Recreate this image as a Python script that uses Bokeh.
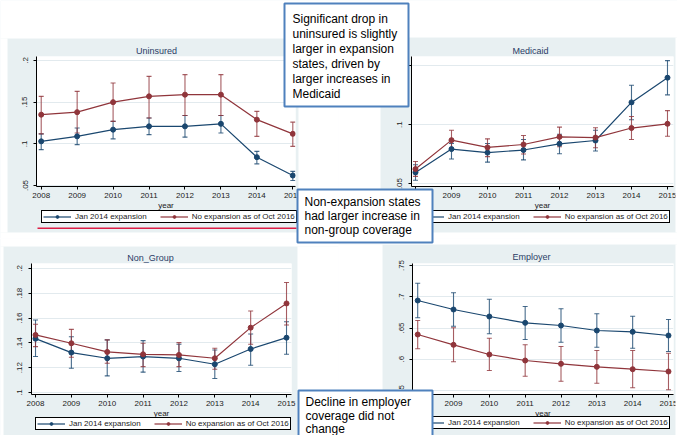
from bokeh.plotting import figure
from bokeh.layouts import column, row
from bokeh.models import (ColumnDataSource, Range1d, FixedTicker, Whisker, TeeHead,
                          Legend, LegendItem, Label, BoxAnnotation)
from bokeh.embed import file_html
from bokeh.resources import INLINE

# ---------------- data ----------------
YEARS = [2008, 2009, 2010, 2011, 2012, 2013, 2014, 2015]
SERIES_NAMES = ["Jan 2014 expansion", "No expansion as of Oct 2016"]

UNINS_EXP = [0.103, 0.109, 0.117, 0.121, 0.121, 0.124, 0.084, 0.062]
UNINS_EXP_LO = [0.093, 0.099, 0.106, 0.111, 0.108, 0.113, 0.076, 0.056]
UNINS_EXP_HI = [0.112, 0.119, 0.127, 0.131, 0.134, 0.134, 0.091, 0.067]
UNINS_NON = [0.135, 0.138, 0.150, 0.157, 0.159, 0.159, 0.129, 0.112]
UNINS_NON_LO = [0.112, 0.113, 0.127, 0.131, 0.134, 0.134, 0.109, 0.097]
UNINS_NON_HI = [0.157, 0.163, 0.173, 0.181, 0.183, 0.183, 0.139, 0.126]

MED_EXP = [0.0595, 0.0793, 0.0763, 0.0785, 0.0838, 0.0866, 0.119, 0.140]
MED_EXP_LO = [0.0528, 0.0709, 0.0682, 0.0701, 0.0754, 0.0777, 0.1042, 0.1254]
MED_EXP_HI = [0.066, 0.0841, 0.0841, 0.0874, 0.0919, 0.0953, 0.1335, 0.1545]
MED_NON = [0.0623, 0.0869, 0.0807, 0.0832, 0.0897, 0.0891, 0.0972, 0.1008]
MED_NON_LO = [0.0561, 0.0799, 0.0729, 0.0751, 0.0813, 0.0804, 0.0874, 0.0902]
MED_NON_HI = [0.0687, 0.0953, 0.088, 0.0908, 0.098, 0.0975, 0.107, 0.112]

NG_EXP = [0.1434, 0.1322, 0.1276, 0.129, 0.1276, 0.1228, 0.1351, 0.1442]
NG_EXP_LO = [0.129, 0.1196, 0.1134, 0.1164, 0.1169, 0.1113, 0.122, 0.1308]
NG_EXP_HI = [0.1584, 0.145, 0.1424, 0.1418, 0.1389, 0.1343, 0.1472, 0.1571]
NG_NON = [0.1464, 0.1397, 0.1327, 0.1308, 0.1303, 0.1276, 0.1523, 0.1718]
NG_NON_LO = [0.137, 0.1284, 0.1236, 0.1209, 0.1209, 0.1188, 0.1389, 0.1544]
NG_NON_HI = [0.155, 0.1509, 0.1424, 0.1397, 0.1402, 0.1357, 0.1657, 0.1887]

EMP_EXP = [0.694, 0.6796, 0.6684, 0.6583, 0.654, 0.646, 0.6439, 0.638]
EMP_EXP_LO = [0.6663, 0.6529, 0.6407, 0.6316, 0.6273, 0.6193, 0.6177, 0.6124]
EMP_EXP_HI = [0.7217, 0.7063, 0.6961, 0.6844, 0.6807, 0.6727, 0.6689, 0.6636]
EMP_NON = [0.6396, 0.6231, 0.6076, 0.598, 0.5927, 0.5879, 0.5841, 0.5804]
EMP_NON_LO = [0.6167, 0.5959, 0.582, 0.5729, 0.5649, 0.5617, 0.5543, 0.5511]
EMP_NON_HI = [0.662, 0.6503, 0.6337, 0.6231, 0.6204, 0.614, 0.614, 0.6097]

TITLES = ["Uninsured", "Medicaid", "Non_Group", "Employer"]
X_LABEL = "year"

UNINS_TICKS = [0.05, 0.1, 0.15, 0.2]
UNINS_TICK_LABELS = [".05", ".1", ".15", ".2"]
MED_TICKS = [0.05, 0.1, 0.15]
MED_TICK_LABELS = [".05", ".1", ".15"]
NG_TICKS = [0.1, 0.12, 0.14, 0.16, 0.18, 0.2]
NG_TICK_LABELS = [".1", ".12", ".14", ".16", ".18", ".2"]
EMP_TICKS = [0.55, 0.6, 0.65, 0.7, 0.75]
EMP_TICK_LABELS = [".55", ".6", ".65", ".7", ".75"]

NOTE1 = ["Significant drop in", "uninsured is slightly", "larger in expansion",
         "states, driven by", "larger increases in", "Medicaid"]
NOTE2 = ["Non-expansion states", "had larger increase in", "non-group coverage"]
NOTE3 = ["Decline in employer", "coverage did not", "change"]

# ---------------- styles / layout (pixels) ----------------
FONT = "Liberation Sans"
BLUE = "#1a476f"
RED = "#90353b"
BG = "#e8f0f2"
GRID = "#e2eaee"
BOX_BLUE = "#4f81bd"
TITLE_COLOR = "#2b3d66"
W, H = 677, 435

PANELS = [
    dict(tile=(0, 0, 338, 238), frame=(36, 56, 295, 186), xr=(2007.869, 2015.075),
         yr=(0.0488, 0.2048), bg=(7, 38, 298, 232), title=(156, 50), leg=(41, 212),
         data=(UNINS_EXP, UNINS_EXP_LO, UNINS_EXP_HI, UNINS_NON, UNINS_NON_LO, UNINS_NON_HI),
         ticks=(UNINS_TICKS, UNINS_TICK_LABELS)),
    dict(tile=(338, 0, 677, 238), frame=(411, 55, 673, 187), xr=(2007.889, 2015.167),
         yr=(0.0475, 0.158), bg=(380, 37, 675, 232), title=(530, 50), leg=(414, 212),
         data=(MED_EXP, MED_EXP_LO, MED_EXP_HI, MED_NON, MED_NON_LO, MED_NON_HI),
         ticks=(MED_TICKS, MED_TICK_LABELS)),
    dict(tile=(0, 238, 338, 435), frame=(31, 263, 291, 395), xr=(2007.888, 2015.139),
         yr=(0.0984, 0.204), bg=(3, 246, 297, 435), title=(150, 257), leg=(35, 419),
         data=(NG_EXP, NG_EXP_LO, NG_EXP_HI, NG_NON, NG_NON_LO, NG_NON_HI),
         ticks=(NG_TICKS, NG_TICK_LABELS)),
    dict(tile=(338, 238, 677, 435), frame=(412, 263, 673, 394), xr=(2007.855, 2015.14),
         yr=(0.5436, 0.7532), bg=(382, 244, 675, 435), title=(531, 256), leg=(414, 418),
         data=(EMP_EXP, EMP_EXP_LO, EMP_EXP_HI, EMP_NON, EMP_NON_LO, EMP_NON_HI),
         ticks=(EMP_TICKS, EMP_TICK_LABELS)),
]

NOTES = [
    dict(box=(284, 3, 408, 106), lines=NOTE1, tx=292, ty=18, dy=15),
    dict(box=(297, 189, 432, 242), lines=NOTE2, tx=304, ty=201.5, dy=14),
    dict(box=(298, 390, 432, 445), lines=NOTE3, tx=305, ty=401.5, dy=13.5),
]
UNDERLINE = (37, 227, 296, 228.5)
LEG_H = 11


def make_panel(cfg):
    tl, tt, tr, tb = cfg["tile"]
    fl, ft, fr, fb = cfg["frame"]
    p = figure(width=tr - tl, height=tb - tt, output_backend="svg", toolbar_location=None,
               x_range=Range1d(*cfg["xr"]), y_range=Range1d(*cfg["yr"]),
               min_border_left=fl - tl, min_border_right=tr - fr,
               min_border_top=ft - tt, min_border_bottom=tb - fb,
               border_fill_color=BG, background_fill_color="white",
               outline_line_color=None, title_location=None)

    ticks, labels = cfg["ticks"]
    p.xaxis.ticker = FixedTicker(ticks=YEARS)
    p.yaxis.ticker = FixedTicker(ticks=ticks)
    p.yaxis.major_label_overrides = dict(zip(ticks, labels))
    p.yaxis.major_label_orientation = "vertical"
    for ax in (p.xaxis[0], p.yaxis[0]):
        ax.axis_line_color = "black"
        ax.axis_line_width = 1
        ax.major_tick_line_color = "black"
        ax.major_tick_out = 3
        ax.major_tick_in = 0
        ax.minor_tick_out = 0
        ax.minor_tick_in = 0
        ax.major_label_text_font = FONT
        ax.major_label_text_font_size = "8px"
        ax.major_label_text_color = "#222222"
    p.yaxis.major_label_standoff = 6
    p.xaxis.major_label_standoff = 3
    p.xaxis.axis_label = X_LABEL
    p.xaxis.axis_label_text_font = FONT
    p.xaxis.axis_label_text_font_size = "8px"
    p.xaxis.axis_label_text_font_style = "normal"
    p.xaxis.axis_label_text_color = "#222222"
    p.xaxis.axis_label_standoff = 0
    p.xgrid.visible = False
    p.ygrid.ticker = FixedTicker(ticks=ticks)
    p.ygrid.grid_line_color = GRID
    p.ygrid.grid_line_width = 1

    exp, exp_lo, exp_hi, non, non_lo, non_hi = cfg["data"]
    for (yv, lo, hi), col in zip([(exp, exp_lo, exp_hi), (non, non_lo, non_hi)], [BLUE, RED]):
        src = ColumnDataSource(dict(x=YEARS, y=yv, lo=lo, hi=hi))
        p.add_layout(Whisker(source=src, base="x", lower="lo", upper="hi",
                             dimension="height", line_color=col, line_alpha=0.8,
                             line_width=1.1,
                             lower_head=TeeHead(size=5, line_color=col, line_alpha=0.8, line_width=1.1),
                             upper_head=TeeHead(size=5, line_color=col, line_alpha=0.8, line_width=1.1)))
        p.line("x", "y", source=src, line_color=col, line_width=1.2)
        p.scatter("x", "y", source=src, marker="circle", size=5, fill_color=col, line_color=col)
    return p


figs = [make_panel(c) for c in PANELS]


def overlay_fig(z):
    o = figure(width=W, height=H, output_backend="svg", toolbar_location=None,
               x_range=Range1d(0, W), y_range=Range1d(H, 0),
               x_axis_type=None, y_axis_type=None, title_location=None,
               min_border_left=0, min_border_right=0, min_border_top=0, min_border_bottom=0,
               border_fill_alpha=0, background_fill_alpha=0, outline_line_color=None,
               styles={"position": "absolute", "left": "0px", "top": "0px", "z-index": str(z)})
    o.xgrid.visible = False
    o.ygrid.visible = False
    return o


def box(l, t, r, b, **kw):
    return BoxAnnotation(left=l, right=r, top=t, bottom=b, line_dash="solid", **kw)


# ---------- overlay 1 (page pixels): margins, titles, legends ----------
ov = overlay_fig(10)
for cfg in PANELS:
    tl, tt, tr, tb = cfg["tile"]
    l, t, r, b = cfg["bg"]
    for (L, T, R, B) in [(tl, tt, tr, t), (tl, b, tr, tb), (tl, t, l, b), (r, t, tr, b)]:
        if R > L and B > T:
            ov.add_layout(box(L, T, R, B, fill_color="white", fill_alpha=1,
                              line_color=None, level="image"))

# legend keys: renderers with a single NaN point (nothing drawn on the page itself)
legend_glyphs = []
for name, col in zip(SERIES_NAMES, [BLUE, RED]):
    key_src = ColumnDataSource(dict(x=[float("nan")], y=[float("nan")]))
    lr = ov.line("x", "y", source=key_src, line_color=col, line_width=1.2)
    sr = ov.scatter("x", "y", source=key_src, marker="circle", size=5,
                    fill_color=col, line_color=col)
    legend_glyphs.append((name, [lr, sr]))

for i, cfg in enumerate(PANELS):
    tx, ty = cfg["title"]
    ov.add_layout(Label(x=tx, y=ty, text=TITLES[i], text_align="center", text_baseline="middle",
                        text_font=FONT, text_font_size="9px", text_color=TITLE_COLOR))
    lx, ly = cfg["leg"]
    ov.add_layout(Legend(items=[LegendItem(label=n, renderers=r) for n, r in legend_glyphs],
                         orientation="horizontal", location=(lx, H - ly - LEG_H),
                         border_line_color="black", border_line_width=1, border_line_alpha=1,
                         background_fill_color="white", background_fill_alpha=1,
                         label_text_font=FONT, label_text_font_size="8px",
                         label_text_color="#222222",
                         glyph_width=28, glyph_height=7, label_height=7, label_standoff=4,
                         spacing=13, padding=1, margin=0))

l, t, r, b = UNDERLINE
ov.add_layout(box(l, t, r, b, fill_color="#dc1e46", fill_alpha=1, line_color=None,
                  level="annotation"))

# ---------- overlay 2 (on top): the callout notes ----------
notes = overlay_fig(20)
for note in NOTES:
    l, t, r, b = note["box"]
    notes.add_layout(box(l, t, r, b, fill_color="white", fill_alpha=1,
                         line_color=BOX_BLUE, line_alpha=1, line_width=2, level="annotation"))
    for k, s in enumerate(note["lines"]):
        notes.add_layout(Label(x=note["tx"], y=note["ty"] + k * note["dy"], text=s,
                               text_align="left", text_baseline="middle",
                               text_font=FONT, text_font_size="12px",
                               text_color="black", level="annotation"))

layout = column(row(figs[0], figs[1]), row(figs[2], figs[3]), ov, notes)
open("out.html", "w").write(file_html(layout, INLINE))
